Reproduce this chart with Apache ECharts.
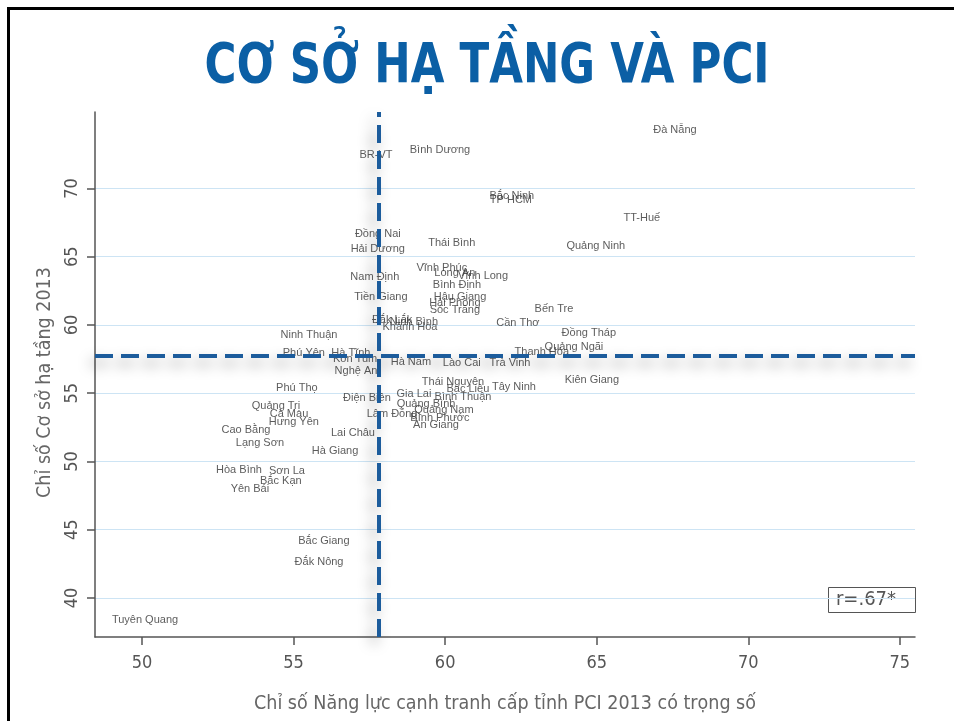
<!DOCTYPE html>
<html>
<head>
<meta charset="utf-8">
<script src="https://cdn.jsdelivr.net/npm/echarts@6/dist/echarts.min.js"></script>
<style>
html,body{margin:0;padding:0;background:#fff;}
#chart{width:954px;height:721px;}
</style>
</head>
<body>
<div id="chart"></div>
<script>
// ---- data ----
const provinces = ["Đà Nẵng","BR-VT","Bình Dương","Bắc Ninh","TP HCM","TT-Huế","Đồng Nai","Hải Dương","Thái Bình","Quảng Ninh",
  "Vĩnh Phúc","Long An","Vĩnh Long","Nam Định","Bình Định","Tiền Giang","Hậu Giang","Hải Phòng","Sóc Trăng","Bến Tre",
  "Đắk Lắk","Ninh Bình","Khánh Hòa","Cần Thơ","Ninh Thuận","Đồng Tháp","Quảng Ngãi","Thanh Hóa","Phú Yên","Hà Tĩnh",
  "Kon Tum","Nghệ An","Hà Nam","Lào Cai","Trà Vinh","Thái Nguyên","Kiên Giang","Tây Ninh","Bạc Liêu","Gia Lai",
  "Phú Thọ","Bình Thuận","Điện Biên","Quảng Bình","Quảng Trị","Quảng Nam","Lâm Đồng","Cà Mau","Bình Phước","Hưng Yên",
  "An Giang","Cao Bằng","Lai Châu","Lạng Sơn","Hà Giang","Hòa Bình","Sơn La","Bắc Kạn","Yên Bái","Bắc Giang",
  "Đắk Nông","Tuyên Quang"];
const pci2013 = [67.58,57.72,59.83,62.20,62.17,66.49,57.78,57.78,60.22,64.97,
  59.89,60.32,61.25,57.68,60.39,57.88,60.49,60.32,60.32,63.59,
  58.25,58.97,58.84,62.40,55.51,64.74,64.25,63.19,55.34,56.89,
  57.03,57.06,58.87,60.55,62.14,60.26,64.84,62.27,60.75,58.97,
  55.11,60.59,57.42,59.37,54.42,59.96,58.25,54.85,59.83,55.01,
  59.70,53.43,56.96,53.89,56.37,53.20,54.78,54.58,53.56,56.00,
  55.84,50.10];
const infra2013 = [74.30,72.46,72.83,69.46,69.16,67.84,66.67,65.57,66.01,65.79,
  64.18,63.81,63.59,63.52,62.93,62.05,62.05,61.61,61.10,61.17,
  60.37,60.22,59.85,60.15,59.27,59.41,58.39,58.02,57.95,57.95,
  57.51,56.63,57.29,57.21,57.21,55.82,55.97,55.45,55.31,54.94,
  55.38,54.72,54.65,54.21,54.06,53.77,53.47,53.47,53.18,52.89,
  52.67,52.30,52.08,51.35,50.76,49.37,49.30,48.56,47.98,44.16,
  42.62,38.37];
const meanPCI = 57.8;
const meanInfra = 57.75;
const xTicks = [50,55,60,65,70,75];
const yTicks = [40,45,50,55,60,65,70];
const titleText = "CƠ SỞ HẠ TẦNG VÀ PCI";
const xName = "Chỉ số Năng lực cạnh tranh cấp tỉnh PCI 2013 có trọng số";
const yName = "Chỉ số Cơ sở hạ tầng 2013";
const rText = "r=.67*";

const points = provinces.map((n,i)=>({name:n, value:[pci2013[i], infra2013[i]]}));

const narrow = "'DejaVu Sans Condensed','Liberation Sans Narrow',sans-serif";
const chart = echarts.init(document.getElementById('chart'), null, {renderer:'canvas'});
chart.setOption({
  backgroundColor:'#ffffff',
  animation:false,
  grid:{left:95, right:39, top:112, bottom:84, containLabel:false},
  xAxis:{
    type:'value', min:48.45, max:75.5,
    name:xName, nameLocation:'middle', nameGap:57,
    nameTextStyle:{fontFamily:narrow, fontSize:19.5, color:'#666'},
    axisLine:{show:true, onZero:false, lineStyle:{color:'#555', width:1.5}},
    axisTick:{show:true, length:8, lineStyle:{color:'#555', width:1.5}, customValues:xTicks},
    axisLabel:{customValues:xTicks, margin:17, fontFamily:narrow, fontSize:18, color:'#555'},
    splitLine:{show:false}
  },
  yAxis:{
    type:'value', min:37.14, max:75.6,
    name:yName, nameLocation:'middle', nameGap:40, nameRotate:90,
    nameTextStyle:{fontFamily:narrow, fontSize:19.5, color:'#666', padding:[0,16,0,0]},
    axisLine:{show:true, onZero:false, lineStyle:{color:'#555', width:1.5}},
    axisTick:{show:true, length:8, lineStyle:{color:'#555', width:1.5}, customValues:yTicks},
    axisLabel:{customValues:yTicks, rotate:90, margin:14, fontFamily:narrow, fontSize:18, color:'#555'},
    splitLine:{show:true, lineStyle:{color:'#cde4f4', width:1}}
  },
  series:[{
    type:'scatter',
    data:points,
    symbolSize:1,
    itemStyle:{color:'rgba(0,0,0,0)'},
    label:{show:true, position:'inside', formatter:'{b}', fontFamily:"'Liberation Sans',Arial,sans-serif", fontSize:11, color:'#333'},
    labelLayout:{hideOverlap:false},
    emphasis:{disabled:true},
    markLine:{
      silent:true, symbol:['none','none'], label:{show:false},
      lineStyle:{color:'#1c5c9c', width:4, type:[18,8], shadowBlur:14, shadowColor:'rgba(0,0,0,0.4)', shadowOffsetX:-5, shadowOffsetY:7},
      data:[{xAxis:meanPCI},{yAxis:meanInfra}]
    }
  }],
  graphic:[
    {type:'rect', shape:{x:8.5, y:8.5, width:960, height:720}, style:{fill:'none', stroke:'#000', lineWidth:3}, silent:true},
    {type:'text', x:487, y:68, scaleX:0.88, style:{text:titleText, fontFamily:narrow, fontWeight:'bold', fontSize:55, fill:'#0b5fa5', align:'center', verticalAlign:'middle'}},
    {type:'rect', shape:{x:828.5, y:587.5, width:87, height:25}, style:{fill:'#fff', stroke:'#555', lineWidth:1}},
    {type:'text', x:866, y:600, style:{text:rText, fontFamily:narrow, fontSize:20, fill:'#555', align:'center', verticalAlign:'middle'}}
  ]
});
</script>
</body>
</html>
